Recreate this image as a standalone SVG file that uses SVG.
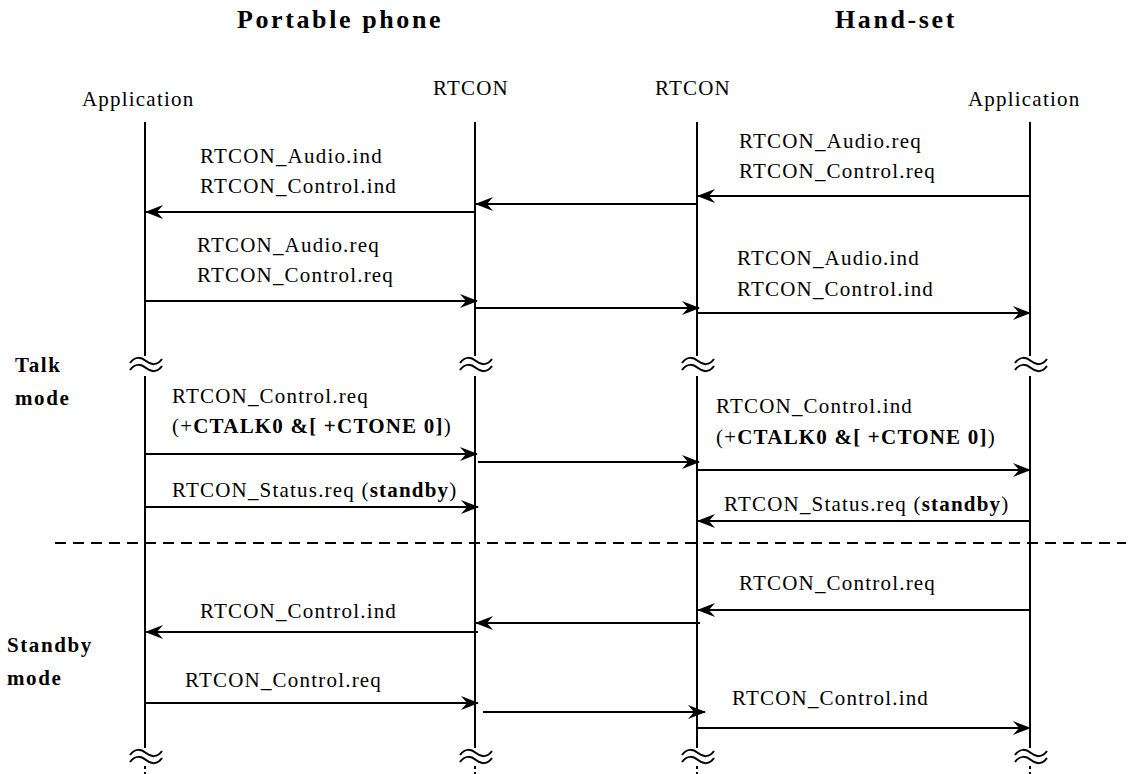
<svg xmlns="http://www.w3.org/2000/svg" width="1130" height="774" viewBox="0 0 1130 774">
<style>
text{font-family:"Liberation Serif","Times New Roman",serif;font-size:21px;letter-spacing:1.2px;fill:#000}
.h{font-weight:bold;font-size:26px;letter-spacing:2.6px}
.m{font-weight:bold;font-size:21px;letter-spacing:1.6px}
.b{font-weight:bold}
.life{stroke:#000;stroke-width:2;fill:none}
.msg{stroke:#000;stroke-width:2;fill:none;marker-end:url(#ah)}
.brk{stroke:#000;stroke-width:2;fill:none}
.sep{stroke:#000;stroke-width:2;stroke-dasharray:11 7;fill:none}
</style>
<defs>
<marker id="ah" markerUnits="userSpaceOnUse" markerWidth="18" markerHeight="14" viewBox="0 0 18 14" refX="17" refY="7" orient="auto">
<path d="M0,0 L18,7 L0,14 L6,7 Z" fill="#000"/>
</marker>
<g id="wave">
<path d="M-16,5 C-11,-2 -5,-1 0,3 S11,8 16,1"/>
<path d="M-16,12 C-11,5 -5,6 0,10 S11,15 16,8"/>
</g>
</defs>

<g id="titles">
<text class="h" x="237" y="28">Portable phone</text>
<text class="h" x="835" y="28">Hand-set</text>
</g>

<g id="pp-app">
<text x="82" y="106">Application</text>
<path class="life" d="M145,122 V356 M145,376 V748"/>
<path class="life" d="M145,766 V774" stroke-dasharray="3 3"/>
<use href="#wave" class="brk" x="146" y="358"/>
<use href="#wave" class="brk" x="146" y="750"/>
</g>
<g id="pp-rtcon">
<text x="433" y="95">RTCON</text>
<path class="life" d="M475,122 V356 M475,376 V748"/>
<path class="life" d="M475,766 V774" stroke-dasharray="3 3"/>
<use href="#wave" class="brk" x="476" y="358"/>
<use href="#wave" class="brk" x="476" y="750"/>
</g>
<g id="hs-rtcon">
<text x="655" y="95">RTCON</text>
<path class="life" d="M697,122 V356 M697,376 V748"/>
<path class="life" d="M697,766 V774" stroke-dasharray="3 3"/>
<use href="#wave" class="brk" x="698" y="358"/>
<use href="#wave" class="brk" x="698" y="750"/>
</g>
<g id="hs-app">
<text x="968" y="106">Application</text>
<path class="life" d="M1030,122 V356 M1030,376 V748"/>
<path class="life" d="M1030,766 V774" stroke-dasharray="3 3"/>
<use href="#wave" class="brk" x="1031" y="358"/>
<use href="#wave" class="brk" x="1031" y="750"/>
</g>

<g id="modes">
<text class="m" x="15" y="372">Talk</text>
<text class="m" x="15" y="405">mode</text>
<text class="m" x="7" y="652">Standby</text>
<text class="m" x="7" y="685">mode</text>
</g>

<g id="connectors">
<line class="sep" x1="55" y1="543" x2="1126" y2="543"/>
<line class="msg" x1="1030" y1="196" x2="698" y2="196"/>
<line class="msg" x1="697" y1="204" x2="476" y2="204"/>
<line class="msg" x1="475" y1="212" x2="146" y2="212"/>
<line class="msg" x1="145" y1="301" x2="477" y2="301"/>
<line class="msg" x1="475" y1="308" x2="699" y2="308"/>
<line class="msg" x1="697" y1="313" x2="1030" y2="313"/>
<line class="msg" x1="145" y1="454" x2="477" y2="454"/>
<line class="msg" x1="478" y1="462" x2="699" y2="462"/>
<line class="msg" x1="697" y1="470" x2="1030" y2="470"/>
<line class="msg" x1="145" y1="507" x2="478" y2="507"/>
<line class="msg" x1="1030" y1="521" x2="698" y2="521"/>
<line class="msg" x1="1030" y1="610" x2="698" y2="610"/>
<line class="msg" x1="700" y1="623" x2="476" y2="623"/>
<line class="msg" x1="478" y1="632" x2="146" y2="632"/>
<line class="msg" x1="145" y1="703" x2="478" y2="703"/>
<line class="msg" x1="483" y1="712" x2="705" y2="712"/>
<line class="msg" x1="697" y1="728" x2="1030" y2="728"/>
</g>

<g id="labels">
<text x="200" y="163">RTCON_Audio.ind</text>
<text x="200" y="193">RTCON_Control.ind</text>
<text x="739" y="148">RTCON_Audio.req</text>
<text x="739" y="178">RTCON_Control.req</text>
<text x="197" y="252">RTCON_Audio.req</text>
<text x="197" y="282">RTCON_Control.req</text>
<text x="737" y="265">RTCON_Audio.ind</text>
<text x="737" y="296">RTCON_Control.ind</text>
<text x="172" y="403">RTCON_Control.req</text>
<text x="172" y="433">(+<tspan class="b">CTALK0 &amp;[ +CTONE 0]</tspan>)</text>
<text x="716" y="413">RTCON_Control.ind</text>
<text x="716" y="444">(+<tspan class="b">CTALK0 &amp;[ +CTONE 0]</tspan>)</text>
<text x="172" y="497">RTCON_Status.req (<tspan class="b">standby</tspan>)</text>
<text x="724" y="511">RTCON_Status.req (<tspan class="b">standby</tspan>)</text>
<text x="739" y="590">RTCON_Control.req</text>
<text x="200" y="618">RTCON_Control.ind</text>
<text x="185" y="687">RTCON_Control.req</text>
<text x="732" y="705">RTCON_Control.ind</text>
</g>
</svg>
